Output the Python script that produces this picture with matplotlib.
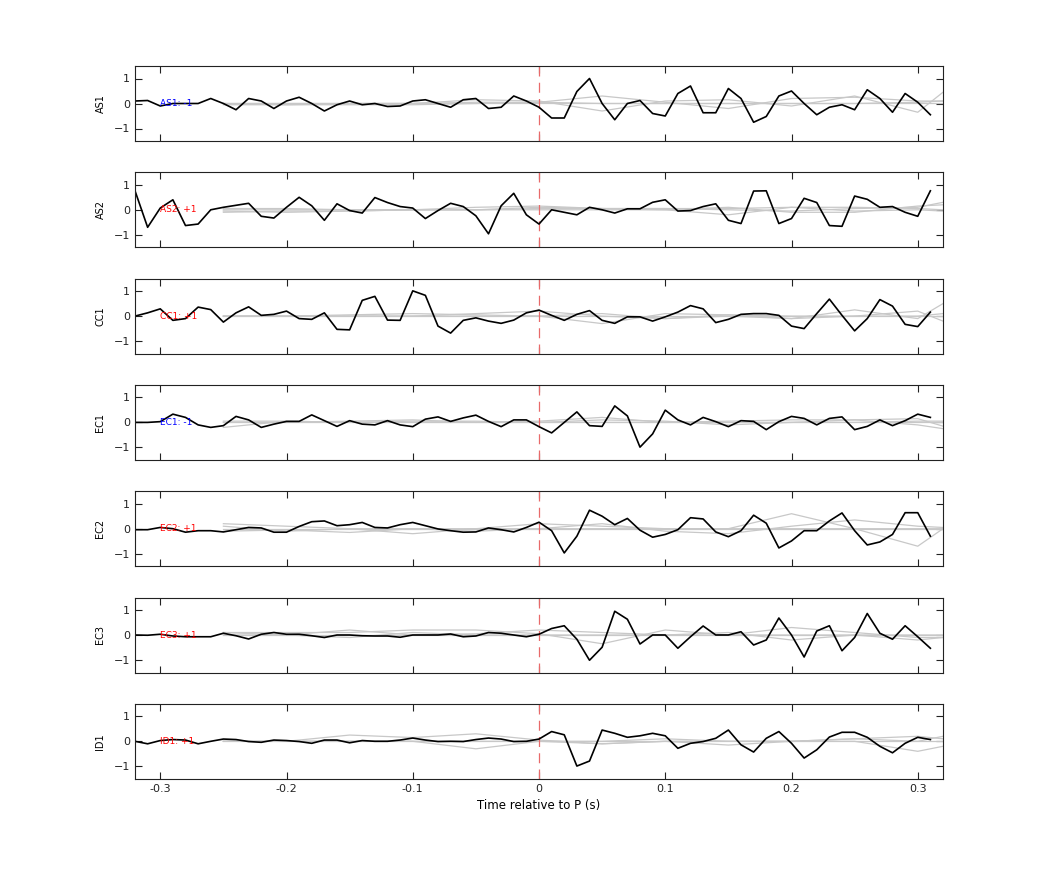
import numpy as np
import matplotlib
matplotlib.use("Agg")
import matplotlib.pyplot as plt

t = np.round(np.arange(-0.32, 0.315, 0.01), 2)
stations = ["AS1", "AS2", "CC1", "EC1", "EC2", "EC3", "ID1"]
polarity = ["-1", "+1", "+1", "-1", "+1", "+1", "+1"]

AS1 = [0.1,0.12,-0.1,0,0,0,0.2,0,-0.25,0.2,0.1,-0.2,0.1,0.25,0.0,-0.3,-0.05,0.1,-0.05,0,-0.12,-0.1,0.1,0.15,0,-0.15,0.15,0.2,-0.2,-0.15,0.3,0.1,
       -0.15,-0.58,-0.58,0.48,1.0,0,-0.65,0,0.12,-0.4,-0.5,0.4,0.7,-0.37,-0.37,0.6,0.2,-0.75,-0.52,0.3,0.5,0,-0.45,-0.15,-0.05,-0.25,0.55,0.2,-0.35,0.4,0.05,-0.45]
AS2 = [0.76,-0.7,0.07,0.4,-0.63,-0.57,0,0.1,0.18,0.26,-0.26,-0.33,0.1,0.5,0.16,-0.42,0.24,-0.03,-0.13,0.49,0.29,0.13,0.07,-0.35,-0.03,0.26,0.13,-0.24,-0.96,0.16,0.66,-0.2,
       -0.57,0,-0.1,-0.2,0.1,0,-0.13,0.04,0.04,0.3,0.4,-0.05,-0.03,0.13,0.24,-0.42,-0.55,0.75,0.76,-0.55,-0.35,0.46,0.29,-0.63,-0.66,0.55,0.42,0.1,0.13,-0.1,-0.26,0.76]
CC1 = [0,0.13,0.29,-0.17,-0.1,0.36,0.26,-0.24,0.13,0.37,0.03,0.07,0.2,-0.1,-0.13,0.13,-0.53,-0.55,0.63,0.79,-0.16,-0.17,1.01,0.83,-0.4,-0.68,-0.17,-0.07,-0.2,-0.29,-0.16,0.13,
       0.24,0.03,-0.17,0.07,0.22,-0.17,-0.29,-0.03,-0.03,-0.2,-0.03,0.16,0.42,0.29,-0.26,-0.13,0.07,0.1,0.1,0.03,-0.4,-0.5,0.1,0.68,0.03,-0.59,-0.1,0.66,0.4,-0.33,-0.42,0.16]
EC1 = [0,0,0.03,0.33,0.2,-0.1,-0.2,-0.13,0.24,0.1,-0.2,-0.07,0.04,0.04,0.3,0.07,-0.16,0.07,-0.07,-0.1,0.07,-0.1,-0.17,0.13,0.22,0.04,0.18,0.29,0.04,-0.17,0.1,0.1,
       -0.17,-0.42,0,0.42,-0.13,-0.16,0.66,0.26,-0.99,-0.46,0.49,0.1,-0.1,0.2,0.03,-0.17,0.07,0.04,-0.29,0.03,0.24,0.16,-0.1,0.16,0.22,-0.29,-0.16,0.1,-0.13,0.07,0.33,0.2]
EC2 = [-0.04,-0.04,0.05,0,-0.14,-0.08,-0.08,-0.13,-0.04,0.05,0.03,-0.14,-0.14,0.09,0.28,0.31,0.12,0.16,0.25,0.05,0.03,0.16,0.25,0.12,-0.01,-0.08,-0.14,-0.13,0.03,-0.04,-0.13,0.05,
       0.26,-0.08,-0.97,-0.3,0.74,0.5,0.16,0.41,-0.06,-0.34,-0.23,-0.04,0.44,0.39,-0.13,-0.32,-0.08,0.54,0.22,-0.77,-0.49,-0.08,-0.08,0.31,0.63,-0.08,-0.65,-0.53,-0.23,0.64,0.64,-0.3]
EC3 = [0,-0.01,0.03,-0.04,-0.07,-0.07,-0.07,0.07,-0.03,-0.16,0.03,0.1,0.03,0.03,-0.03,-0.1,0,0,-0.03,-0.04,-0.04,-0.09,0,0,0,0.04,-0.07,-0.04,0.1,0.07,0,-0.07,
       0.03,0.26,0.37,-0.17,-1.01,-0.49,0.95,0.63,-0.36,0,0,-0.53,-0.07,0.36,0,0,0.13,-0.4,-0.2,0.68,0,-0.88,0.16,0.37,-0.63,-0.1,0.86,0.07,-0.17,0.37,-0.07,-0.53]
ID1 = [0,-0.1,0.03,0.07,0.05,-0.1,0,0.09,0.07,-0.01,-0.04,0.05,0.03,-0.01,-0.08,0.05,0.05,-0.06,0.03,0,0,0.05,0.13,0.05,-0.01,0,-0.01,0.07,0.13,0.09,-0.01,0,
       0.09,0.39,0.26,-0.99,-0.79,0.45,0.32,0.16,0.22,0.32,0.22,-0.28,-0.08,-0.01,0.12,0.45,-0.14,-0.43,0.12,0.39,-0.08,-0.67,-0.34,0.17,0.36,0.36,0.16,-0.2,-0.46,-0.08,0.16,0.07]
black = [AS1, AS2, CC1, EC1, EC2, EC3, ID1]

# grey synthetic traces (coarse samples)
tg = [-0.25,-0.2,-0.15,-0.1,-0.05,0.0,0.05,0.1,0.15,0.2,0.25,0.3,0.32]
grey = [
 [[0,0,0,0,0.05,0.05,0.0,0,0,0,0,0,0],[0,-0.05,0,0,0.15,0.1,-0.3,0.1,0.15,-0.1,0.3,-0.35,0.45],[-0.05,-0.05,-0.05,-0.05,0,0.05,0.3,0.05,-0.2,0.2,0.25,0.1,0.1],[0,0,0,0,0,0,0,0,0,0,0,0.05,0.1]],
 [[-0.1,-0.05,-0.05,0,0,0.05,0.05,0.05,0,-0.05,0.05,0.1,0.3],[0,0,0,0,0.1,0.15,0.05,0,0.1,-0.1,-0.1,0.15,0.2],[-0.05,-0.1,-0.05,0,0,0,0,0,-0.2,0.1,-0.05,0,-0.05],[0.05,0.05,0,0,0,0.1,0.05,0.05,0.05,0.1,0.1,0.05,0.0]],
 [[0,0,0,0,0.1,0.2,0.0,-0.1,0.05,-0.1,0.25,-0.1,0.5],[0,0,0.05,0.1,0.05,0,-0.3,0.1,0.05,0,0,0.2,-0.2],[0,0,0,0,0,0,0.1,-0.1,0,-0.1,0,0,0.1],[0,0,0,0,0,0,0,0,0,0,0,0,0]],
 [[-0.2,0.05,0,0.05,0.05,0,0.1,0.05,-0.1,0,0.1,0.15,-0.15],[0,0,0.05,0.1,0,0.05,0.2,0,0.05,0.1,0.1,-0.1,-0.25],[0,0,0,0,0,0,0,0,0,0,0,0,0],[0.05,0.05,0,0,0,0,0,0,0,0,0,0.05,0.05]],
 [[0.2,0.1,0,-0.2,0,0.2,0.1,0,0,0.6,0,-0.7,0],[0.1,-0.1,0,0,0,0,0.2,-0.1,-0.2,0.1,0.35,0.1,0.05],[-0.1,-0.05,-0.15,0,-0.1,0,0,0,0,0,0,0,0],[0,0,0,0,0,0,0,0,0,0,0,0,0]],
 [[0.1,0.1,0.1,0.2,0.2,0.05,-0.35,0.2,0,0.3,0.1,-0.1,-0.1],[0.1,0,0.2,0,0.05,0.2,0.1,0,0.1,-0.2,0,-0.2,-0.1],[0,0,-0.1,0.1,0,0,0,0,0,0,0,0,0],[0,0,0,0,0,0,0,0,0,0,0,0,0]],
 [[0,0,0.25,0.15,0.3,0.05,-0.1,0,-0.15,0,0.1,0,0.2],[0,0,0,0,-0.3,0,0,0.1,0,0,0,-0.4,-0.2],[0,0,0,0,0,0,-0.1,0,0,0,0.1,0.2,0.1],[0,0,0,0,0,0,0,0,0,0,0,0,0]],
]

fig = plt.figure(figsize=(10.42, 8.75), dpi=100)
plt.rcParams['font.family'] = ['DejaVu Sans']
for k, st in enumerate(stations):
    bottom = (875 - 141 - 106.3 * k) / 875
    ax = fig.add_axes([135/1042, bottom, 808/1042, 75/875])
    for g in grey[k]:
        ax.plot(tg, g, color='#c8c8c8', lw=0.9)
    ax.axvline(0, color='#e86a6a', lw=0.9, ls=(0, (8, 5)))
    ax.plot(t, black[k], color='black', lw=1.2)
    col = 'blue' if polarity[k] == "-1" else 'red'
    ax.text(-0.3, 0, f"{st}: {polarity[k]}", color=col, fontsize=6.5, va='center', ha='left')
    ax.set_xlim(-0.32, 0.32)
    ax.set_ylim(-1.5, 1.5)
    ax.set_yticks([-1, 0, 1])
    ax.set_xticks([-0.3, -0.2, -0.1, 0, 0.1, 0.2, 0.3])
    ax.tick_params(direction='in', top=True, right=True, labelsize=8, length=5, colors='#222222')
    for s in ax.spines.values():
        s.set_color('#222222')
    ax.set_ylabel(st, fontsize=7, labelpad=6)
    if k < len(stations) - 1:
        ax.set_xticklabels([])
    else:
        ax.set_xticklabels(['-0.3', '-0.2', '-0.1', '0', '0.1', '0.2', '0.3'])
        ax.set_xlabel('Time relative to P (s)', fontsize=8.5)
fig.savefig('out.png', dpi=100)
